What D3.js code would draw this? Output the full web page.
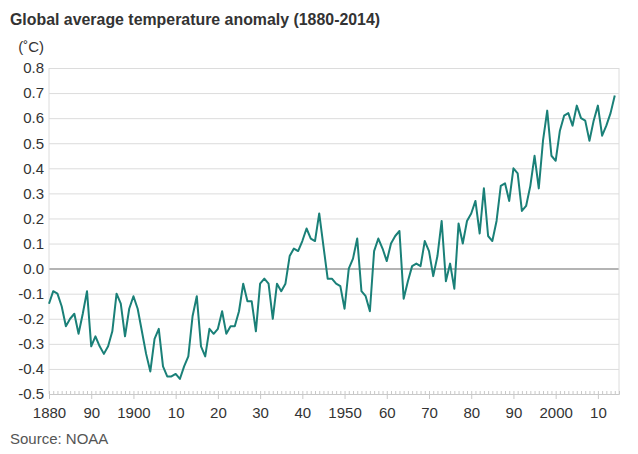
<!DOCTYPE html>
<html>
<head>
<meta charset="utf-8">
<script src="https://cdn.jsdelivr.net/npm/d3@7"></script>
<style>
  html, body { margin: 0; padding: 0; background: #fff; }
  svg { display: block; font-family: "Liberation Sans", Arial, sans-serif; }
</style>
</head>
<body>
<svg id="chart" width="638" height="454"></svg>
<script>
// ---- Data ----
const years = d3.range(1880, 2015);
const anomalies = [
  -0.14, -0.09, -0.10, -0.15, -0.23, -0.20, -0.18, -0.26, -0.18, -0.09, // 1880s
  -0.31, -0.27, -0.31, -0.34, -0.31, -0.25, -0.10, -0.14, -0.27, -0.16, // 1890s
  -0.11, -0.16, -0.25, -0.34, -0.41, -0.28, -0.24, -0.39, -0.43, -0.43, // 1900s
  -0.42, -0.44, -0.39, -0.35, -0.19, -0.11, -0.31, -0.35, -0.24, -0.26, // 1910s
  -0.24, -0.17, -0.26, -0.23, -0.23, -0.17, -0.06, -0.13, -0.13, -0.25, // 1920s
  -0.06, -0.04, -0.06, -0.20, -0.06, -0.09, -0.06,  0.05,  0.08,  0.07, // 1930s
   0.11,  0.16,  0.12,  0.11,  0.22,  0.09, -0.04, -0.04, -0.06, -0.07, // 1940s
  -0.16,  0.00,  0.04,  0.12, -0.09, -0.11, -0.17,  0.07,  0.12,  0.08, // 1950s
   0.03,  0.10,  0.13,  0.15, -0.12, -0.05,  0.01,  0.02,  0.01,  0.11, // 1960s
   0.07, -0.03,  0.05,  0.19, -0.05,  0.02, -0.08,  0.18,  0.10,  0.19, // 1970s
   0.22,  0.27,  0.14,  0.32,  0.13,  0.11,  0.19,  0.33,  0.34,  0.27, // 1980s
   0.40,  0.38,  0.23,  0.25,  0.33,  0.45,  0.32,  0.51,  0.63,  0.45, // 1990s
   0.43,  0.55,  0.61,  0.62,  0.57,  0.65,  0.60,  0.59,  0.51,  0.59, // 2000s
   0.65,  0.53,  0.57,  0.62,  0.69                                      // 2010s
];
const yTicks = [0.8, 0.7, 0.6, 0.5, 0.4, 0.3, 0.2, 0.1, 0.0, -0.1, -0.2, -0.3, -0.4, -0.5];
const xMajorTicks = [1880, 1890, 1900, 1910, 1920, 1930, 1940, 1950, 1960, 1970, 1980, 1990, 2000, 2010];
const xTickLabels = ["1880", "90", "1900", "10", "20", "30", "40", "1950", "60", "70", "80", "90", "2000", "10"];
const titleText = "Global average temperature anomaly (1880-2014)";
const unitText = "(\u02DAC)";
const sourceText = "Source: NOAA";

// ---- Layout ----
const svg = d3.select("#chart");
const plotLeft = 49, plotRight = 619, plotTop = 68, plotBottom = 394;

const x = d3.scaleLinear().domain([1880, 2015]).range([plotLeft, plotRight]);
const y = d3.scaleLinear().domain([-0.5, 0.8]).range([plotBottom, plotTop]);

const textColor = "#333";
const gridColor = "#dcdcdc";

// Title
svg.append("text")
  .attr("x", 10).attr("y", 25)
  .attr("font-size", 15.9).attr("font-weight", "bold")
  .attr("fill", "#333")
  .text(titleText);

// Unit label
svg.append("text")
  .attr("x", 44).attr("y", 52)
  .attr("text-anchor", "end")
  .attr("font-size", 15).attr("fill", textColor)
  .text(unitText);

// Y axis with gridlines
const yAxis = d3.axisLeft(y)
  .tickValues(yTicks)
  .tickSize(-(plotRight - plotLeft))
  .tickPadding(5)
  .tickFormat(d => d3.format(".1f")(d).replace("\u2212", "-"));

const gY = svg.append("g")
  .attr("transform", `translate(${plotLeft},0)`)
  .call(yAxis);
gY.select(".domain").remove();
gY.selectAll(".tick line")
  .attr("stroke", d => Math.abs(d) < 1e-9 ? "#b4b4b4" : gridColor)
  .attr("stroke-width", d => Math.abs(d) < 1e-9 ? 2 : 1);
gY.selectAll(".tick text")
  .attr("font-size", 15)
  .attr("fill", textColor)
  .attr("font-family", "Liberation Sans, Arial, sans-serif");

// Frame verticals
svg.append("line")
  .attr("x1", plotLeft).attr("x2", plotLeft).attr("y1", plotTop).attr("y2", plotBottom)
  .attr("stroke", gridColor).attr("stroke-width", 1);
svg.append("line")
  .attr("x1", plotRight).attr("x2", plotRight).attr("y1", plotTop).attr("y2", plotBottom)
  .attr("stroke", gridColor).attr("stroke-width", 1);

// X axis: minor ticks (upward) every year
const gMinor = svg.append("g")
  .attr("transform", `translate(0,${plotBottom})`)
  .call(d3.axisBottom(x).tickValues(d3.range(1880, 2015)).tickSize(-3).tickFormat(""));
gMinor.select(".domain").attr("stroke", "#c8c8c8");
gMinor.selectAll(".tick line").attr("stroke", "#c8c8c8");

// X axis: major ticks (downward) with labels
const gMajor = svg.append("g")
  .attr("transform", `translate(0,${plotBottom})`)
  .call(d3.axisBottom(x).tickValues(xMajorTicks).tickSize(5).tickPadding(8)
    .tickFormat((d, i) => xTickLabels[i]));
gMajor.select(".domain").remove();
gMajor.selectAll(".tick line").attr("stroke", "#c8c8c8");
gMajor.selectAll(".tick text")
  .attr("font-size", 15)
  .attr("fill", textColor)
  .attr("font-family", "Liberation Sans, Arial, sans-serif");

// Data line
const data = years.map((yr, i) => ({ year: yr, value: anomalies[i] }));
const line = d3.line()
  .x(d => x(d.year))
  .y(d => y(d.value));

svg.append("path")
  .datum(data)
  .attr("fill", "none")
  .attr("stroke", "#1a8078")
  .attr("stroke-width", 2)
  .attr("stroke-linejoin", "round")
  .attr("d", line);

// Source
svg.append("text")
  .attr("x", 10).attr("y", 444)
  .attr("font-size", 15).attr("fill", "#555")
  .text(sourceText);
</script>
</body>
</html>
